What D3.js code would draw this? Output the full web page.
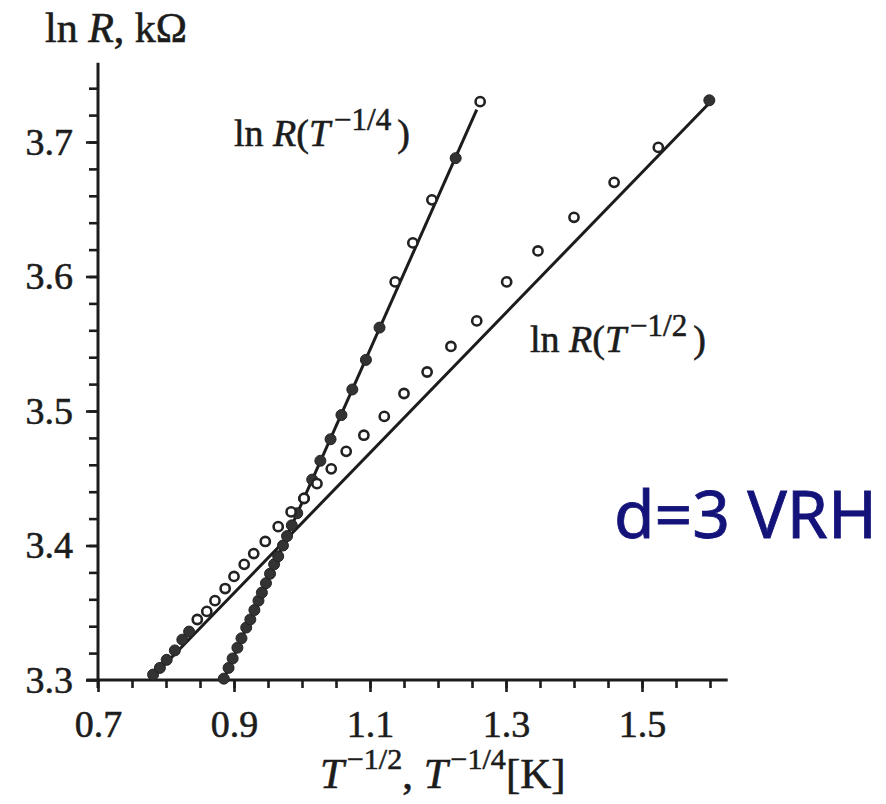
<!DOCTYPE html>
<html>
<head>
<meta charset="utf-8">
<script src="https://cdn.jsdelivr.net/npm/d3@7"></script>
<style>
  body { margin: 0; background: #fff; }
  svg text { font-family: "Liberation Serif", "DejaVu Serif", serif; fill: #1c1c1c; }
</style>
</head>
<body>
<script>
//tick values for the two axes
var xTicks = [0.7, 0.9, 1.1, 1.3, 1.5];
var yTicks = [3.3, 3.4, 3.5, 3.6, 3.7];

//ln R vs T^-1/4 (steep series)
var quarterFilledX = [0.885, 0.892, 0.898, 0.905, 0.911, 0.918, 0.924, 0.930, 0.936, 0.941, 0.947, 0.953, 0.959,
                      0.965, 0.972, 0.978, 0.985, 0.993, 1.003, 1.015, 1.027, 1.042, 1.058, 1.074, 1.094, 1.114, 1.226];
var quarterFilledY = [3.301, 3.309, 3.316, 3.324, 3.331, 3.339, 3.345, 3.352, 3.359, 3.365, 3.372, 3.379, 3.386,
                      3.392, 3.400, 3.407, 3.415, 3.424, 3.435, 3.449, 3.463, 3.479, 3.497, 3.516, 3.538, 3.562, 3.688];
var quarterOpenX = [1.137, 1.163, 1.191, 1.262];
var quarterOpenY = [3.596, 3.625, 3.657, 3.730];
var quarterFitX = [0.884, 1.257];
var quarterFitY = [3.300, 3.724];

//ln R vs T^-1/2 (shallow series)
var halfFilledX = [0.781, 0.791, 0.801, 0.813, 0.824, 0.834, 1.599];
var halfFilledY = [3.304, 3.309, 3.315, 3.322, 3.330, 3.336, 3.731];
var halfOpenX = [0.846, 0.860, 0.872, 0.887, 0.900, 0.915, 0.929, 0.946, 0.965, 0.984, 1.003, 1.022, 1.043,
                 1.065, 1.091, 1.121, 1.150, 1.184, 1.219, 1.257, 1.301, 1.347, 1.400, 1.459, 1.524];
var halfOpenY = [3.345, 3.351, 3.359, 3.368, 3.377, 3.386, 3.394, 3.403, 3.414, 3.425, 3.435, 3.446, 3.457,
                 3.470, 3.482, 3.496, 3.513, 3.529, 3.548, 3.567, 3.596, 3.619, 3.644, 3.670, 3.696];
var halfFitX = [0.776, 1.603];
var halfFitY = [3.300, 3.731];

var lineColor = "#1c1c1c";
var dotColor = "#333";

var svg = d3.select("body").append("svg")
    .attr("width", 886)
    .attr("height", 804);

//scales
var xScale = d3.scaleLinear().domain([0.7, 1.5]).range([98, 642]);
var yScale = d3.scaleLinear().domain([3.3, 3.7]).range([680, 142]);

//axis lines
svg.append("line")
    .attr("x1", xScale(0.683)).attr("x2", xScale(1.626))
    .attr("y1", yScale(3.3)).attr("y2", yScale(3.3))
    .attr("stroke", lineColor).attr("stroke-width", 3);
svg.append("line")
    .attr("x1", xScale(0.7)).attr("x2", xScale(0.7))
    .attr("y1", yScale(3.294)).attr("y2", yScale(3.759))
    .attr("stroke", lineColor).attr("stroke-width", 3);

//minor ticks
var xMinor = d3.range(15, 33).map(d => d * 0.05).filter(d => d > 0.72);
var yMinor = d3.range(166, 188).map(d => d * 0.02);

svg.append("g")
    .attr("transform", "translate(0," + yScale(3.3) + ")")
    .call(d3.axisBottom(xScale).tickValues(xMinor).tickSize(8).tickFormat(""));
svg.append("g")
    .attr("transform", "translate(" + xScale(0.7) + ",0)")
    .call(d3.axisLeft(yScale).tickValues(yMinor).tickSize(9).tickFormat(""));

//major ticks with labels
svg.append("g")
    .attr("transform", "translate(0," + yScale(3.3) + ")")
    .call(d3.axisBottom(xScale).tickValues(xTicks).tickSize(12).tickPadding(18).tickFormat(d3.format(".1f")));
svg.append("g")
    .attr("transform", "translate(" + xScale(0.7) + ",0)")
    .call(d3.axisLeft(yScale).tickValues(yTicks).tickSize(12).tickPadding(13).tickFormat(d3.format(".1f")));

svg.selectAll(".domain").remove();
svg.selectAll(".tick line").attr("stroke", lineColor).attr("stroke-width", 2.6);
svg.selectAll(".tick text")
    .attr("font-family", "Liberation Serif")
    .attr("font-size", 38)
    .attr("fill", "#1c1c1c");

//fit lines
var line = d3.line().x(d => xScale(d[0])).y(d => yScale(d[1]));
svg.append("path")
    .datum(d3.zip(quarterFitX, quarterFitY))
    .attr("d", line)
    .attr("fill", "none").attr("stroke", lineColor).attr("stroke-width", 3);
svg.append("path")
    .datum(d3.zip(halfFitX, halfFitY))
    .attr("d", line)
    .attr("fill", "none").attr("stroke", lineColor).attr("stroke-width", 3);

//markers
function filledDots(xs, ys) {
    svg.append("g").selectAll("circle")
        .data(d3.zip(xs, ys))
        .enter()
        .append("circle")
        .attr("cx", d => xScale(d[0]))
        .attr("cy", d => yScale(d[1]))
        .attr("r", 5.5)
        .attr("fill", dotColor)
        .attr("stroke", "#222")
        .attr("stroke-width", 1);
}
function openDots(xs, ys) {
    svg.append("g").selectAll("circle")
        .data(d3.zip(xs, ys))
        .enter()
        .append("circle")
        .attr("cx", d => xScale(d[0]))
        .attr("cy", d => yScale(d[1]))
        .attr("r", 4.6)
        .attr("fill", "#fff")
        .attr("stroke", "#222")
        .attr("stroke-width", 2.6);
}
filledDots(quarterFilledX, quarterFilledY);
filledDots(halfFilledX, halfFilledY);
openDots(halfOpenX, halfOpenY);
openDots(quarterOpenX, quarterOpenY);

//axis titles
var yTitle = svg.append("text").attr("x", 45).attr("y", 42).attr("font-size", 42);
yTitle.append("tspan").text("ln ");
yTitle.append("tspan").attr("font-style", "italic").text("R");
yTitle.append("tspan").text(", k\u03A9");

var xTitle = svg.append("text").attr("x", 320).attr("y", 788).attr("font-size", 43);
xTitle.append("tspan").attr("font-style", "italic").text("T");
xTitle.append("tspan").attr("font-size", 30).attr("dx", 3).attr("dy", -19).text("\u22121/2");
xTitle.append("tspan").attr("dy", 19).text(", ");
xTitle.append("tspan").attr("font-style", "italic").text("T");
xTitle.append("tspan").attr("font-size", 30).attr("dx", 3).attr("dy", -19).text("\u22121/4");
xTitle.append("tspan").attr("dy", 19).text("[K]");

//series labels
function seriesLabel(x, y, power) {
    var t = svg.append("text").attr("x", x).attr("y", y).attr("font-size", 38);
    t.append("tspan").text("ln ");
    t.append("tspan").attr("font-style", "italic").text("R");
    t.append("tspan").text("(");
    t.append("tspan").attr("font-style", "italic").text("T");
    t.append("tspan").attr("font-size", 31).attr("dx", 4).attr("dy", -16).text(power);
    t.append("tspan").attr("dx", 6).attr("dy", 16).text(")");
}
seriesLabel(234, 146, "\u22121/4");
seriesLabel(530, 352, "\u22121/2");

//text in the scan looks heavier, thicken it a little
svg.selectAll("text").filter(function () { return this.parentNode.tagName === "svg" || this.parentNode.tagName === "g"; })
    .attr("stroke", "#1c1c1c").attr("stroke-width", 0.6);

//annotation
svg.append("text")
    .attr("x", 614).attr("y", 538)
    .attr("font-size", 66)
    .style("font-family", "'Noto Sans', sans-serif")
    .style("fill", "#13137a")
    .attr("stroke", "#13137a").attr("stroke-width", 0.8)
    .text("d=3 VRH");
</script>
</body>
</html>
